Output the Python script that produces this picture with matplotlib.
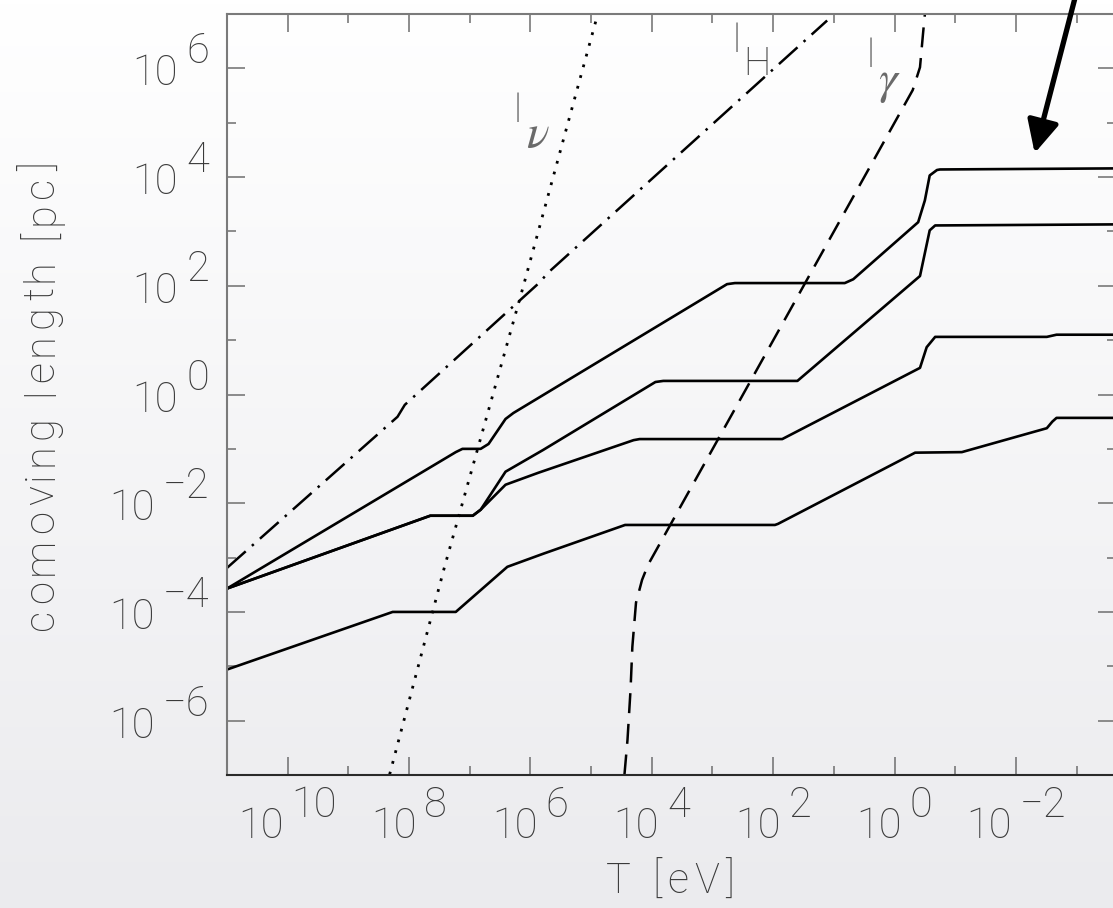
import matplotlib
matplotlib.use('Agg')

import matplotlib.pyplot as plt
import matplotlib.ticker as mticker
from matplotlib.colors import LinearSegmentedColormap
import numpy as np

# values, as log10 exponents
# x: log10(T / eV), y: log10(comoving length / pc)
lnu_logT = [8.32, 7.42, 6.12, 4.90]
lnu_logL = [-6.99, -3.19, 1.98, 6.96]

lH_logT = [11.0, 8.19, 8.07, 5.84, 5.72, 1.11]
lH_logL = [-3.19, -0.41, -0.19, 2.07, 2.23, 6.88]

lgam_logT = [4.45, 4.40, 4.35, 4.32, 4.26, 4.16, 4.06, -0.30, -0.42, -0.47, -0.50]
lgam_logL = [-6.99, -6.35, -5.43, -4.64, -3.83, -3.41, -3.13, 5.60, 6.02, 6.64, 6.99]

a_logT = [11.0, 7.23, 7.12, 6.82, 6.69, 6.41, 6.28, 2.76, 2.63, 0.82, 0.68,
          -0.39, -0.50, -0.58, -0.70, -0.75, -3.7]
a_logL = [-3.57, -1.06, -1.00, -1.00, -0.91, -0.45, -0.34, 2.03, 2.05, 2.05, 2.12,
          3.17, 3.57, 4.03, 4.13, 4.14, 4.16]

b_logT = [11.0, 7.65, 6.95, 6.82, 6.41, 5.79, 3.94, 3.81, 1.60,
          -0.42, -0.50, -0.58, -0.67, -3.7]
b_logL = [-3.57, -2.23, -2.23, -2.12, -1.42, -1.02, 0.23, 0.25, 0.25,
          2.18, 2.60, 3.02, 3.11, 3.13]

c_logT = [11.0, 7.65, 6.95, 6.82, 6.41, 5.87, 4.30, 4.20, 1.85,
          -0.42, -0.53, -0.67, -2.51, -2.67, -3.7]
c_logL = [-3.57, -2.23, -2.23, -2.12, -1.66, -1.44, -0.84, -0.82, -0.82,
          0.49, 0.87, 1.06, 1.06, 1.10, 1.10]

d_logT = [11.0, 8.27, 7.23, 6.38, 5.79, 4.44, 1.97, 1.92, -0.34, -1.11,
          -2.51, -2.60, -2.67, -3.7]
d_logL = [-5.06, -4.00, -4.00, -3.17, -2.93, -2.40, -2.40, -2.38, -1.07, -1.06,
          -0.62, -0.50, -0.43, -0.43]

x_major_exp = [10, 8, 6, 4, 2, 0, -2]
x_minor_exp = [9, 7, 5, 3, 1, -1, -3]
y_major_exp = [6, 4, 2, 0, -2, -4, -6]
y_minor_exp = [5, 3, 1, -1, -3, -5]

W, H = 1113, 908
FS = 30
FONT = dict(family='Roboto', weight=100, color='#3a3a3a')

fig = plt.figure(figsize=(W / 100, H / 100), dpi=100)
fig.patch.set_facecolor('#f4f4f6')

# slide-like background gradient
bg = fig.add_axes([0, 0, 1, 1], zorder=-10)
cmap = LinearSegmentedColormap.from_list('bg', ['#ffffff', '#ebebee'])
bg.imshow(np.linspace(0, 1, 256)[:, None], aspect='auto', cmap=cmap,
          extent=[0, 1, 0, 1], origin='upper')
bg.axis('off')

ax = fig.add_axes([227 / W, (H - 775) / H, (1116 - 227) / W, (775 - 14) / H])
ax.patch.set_alpha(0)
ax.set_xscale('log')
ax.set_yscale('log')
ax.set_xlim(1e11, 10 ** -3.65)
ax.set_ylim(1e-7, 1e7)

ax.xaxis.set_major_locator(mticker.FixedLocator([10.0 ** e for e in x_major_exp]))
ax.xaxis.set_minor_locator(mticker.FixedLocator([10.0 ** e for e in x_minor_exp]))
ax.yaxis.set_major_locator(mticker.FixedLocator([10.0 ** e for e in y_major_exp]))
ax.yaxis.set_minor_locator(mticker.FixedLocator([10.0 ** e for e in y_minor_exp]))
ax.xaxis.set_major_formatter(mticker.NullFormatter())
ax.yaxis.set_major_formatter(mticker.NullFormatter())
ax.xaxis.set_minor_formatter(mticker.NullFormatter())
ax.yaxis.set_minor_formatter(mticker.NullFormatter())
ax.tick_params(which='both', direction='in', top=True, right=True, color='#6e6e6e')
ax.tick_params(which='major', length=13, width=1.1)
ax.tick_params(which='minor', length=6.5, width=1.1)
for s in ax.spines.values():
    s.set_color('#7a7a7a')
    s.set_linewidth(1.5)
ax.spines['bottom'].set_color('#2a2a2a')


def lg(v):
    return 10.0 ** np.array(v)


solid = dict(color='black', lw=1.9, solid_joinstyle='round', solid_capstyle='round')
ax.plot(lg(a_logT), lg(a_logL), **solid)
ax.plot(lg(b_logT), lg(b_logL), **solid)
ax.plot(lg(c_logT), lg(c_logL), **solid)
ax.plot(lg(d_logT), lg(d_logL), **solid)
ax.plot(lg(lnu_logT), lg(lnu_logL), color='black', lw=2.0, linestyle=(0, (1, 3)))
ax.plot(lg(lH_logT), lg(lH_logL), color='black', lw=1.8, linestyle=(0, (10, 3.3, 1, 3.3)))
ax.plot(lg(lgam_logT), lg(lgam_logL), color='black', lw=1.8, linestyle=(0, (8, 4.3)))

# curve labels
greek = dict(ha='center', va='baseline', fontsize=34, math_fontfamily='stix', color='#6a6a6a')
ax.text(10 ** 6.21, 10 ** 5.01, 'l', ha='center', va='baseline', fontsize=28, **FONT)
ax.text(10 ** 5.88, 10 ** 4.55, r'$\nu$', **greek)
ax.text(10 ** 2.61, 10 ** 6.31, 'l', ha='center', va='baseline', fontsize=28, **FONT)
ax.text(10 ** 2.26, 10 ** 5.87, 'H', ha='center', va='baseline', fontsize=28, **FONT)
ax.text(10 ** 0.40, 10 ** 6.02, 'l', ha='center', va='baseline', fontsize=28, **FONT)
ax.text(10 ** 0.09, 10 ** 5.54, r'$\gamma$', **greek)

# arrow coming from above the frame
ax.annotate('', xy=(10 ** -2.31, 10 ** 4.44), xytext=(10 ** -3.05, 10 ** 7.62),
            arrowprops=dict(arrowstyle='-|>,head_length=0.65,head_width=0.32',
                            mutation_scale=30, lw=3.8, color='black',
                            shrinkA=0, shrinkB=0),
            annotation_clip=False)

renderer = fig.canvas.get_renderer()


def width_px(s, fs=FS):
    t = fig.text(0, 0, s, fontsize=fs, **FONT)
    w = t.get_window_extent(renderer=renderer).width
    t.remove()
    return w


def tracked_text(cx, cy, s, length, rotation=0):
    """Draw s letter by letter, spread to the given length (pixels),
    centred on (cx, cy) given in image pixels (baseline)."""
    offs, widths = [], []
    for i, ch in enumerate(s):
        if ch == ' ':
            offs.append(None)
            widths.append(0)
            continue
        wi = width_px(ch)
        offs.append(width_px(s[:i + 1]) - wi)
        widths.append(wi)
    natural = offs[-1] + widths[-1]
    track = (length - natural) / (len(s) - 1)
    start = -length / 2
    for i, ch in enumerate(s):
        if offs[i] is None:
            continue
        p = start + offs[i] + track * i
        if rotation == 0:
            x, y = cx + p, H - cy
        else:
            x, y = cx, H - cy + p
        fig.text(x / W, y / H, ch, rotation=rotation, rotation_mode='anchor',
                 ha='left', va='baseline', fontsize=FS, **FONT)


def exp_str(e):
    return str(e) if e >= 0 else '\u2212' + str(-e)


# tick labels: "10" with a full-size raised exponent
GAP = 8
tw = width_px('10')
for e in x_major_exp:
    es = exp_str(e)
    total = tw + GAP + width_px(es)
    ax.annotate('10', xy=(10.0 ** e, 0), xycoords=('data', 'axes fraction'),
                xytext=(-total / 2, -63), textcoords='offset pixels',
                ha='left', va='baseline', fontsize=FS, annotation_clip=False, **FONT)
    ax.annotate(es, xy=(10.0 ** e, 0), xycoords=('data', 'axes fraction'),
                xytext=(-total / 2 + tw + GAP, -42), textcoords='offset pixels',
                ha='left', va='baseline', fontsize=FS, annotation_clip=False, **FONT)

for e in y_major_exp:
    es = exp_str(e)
    ew = width_px(es)
    ax.annotate(es, xy=(0, 10.0 ** e), xycoords=('axes fraction', 'data'),
                xytext=(-18, 5), textcoords='offset pixels',
                ha='right', va='baseline', fontsize=FS, annotation_clip=False, **FONT)
    ax.annotate('10', xy=(0, 10.0 ** e), xycoords=('axes fraction', 'data'),
                xytext=(-18 - ew - GAP, -17), textcoords='offset pixels',
                ha='right', va='baseline', fontsize=FS, annotation_clip=False, **FONT)

tracked_text(53, 396, 'comoving length [pc]', 467, rotation=90)
tracked_text(670, 893, 'T [eV]', 129)

fig.savefig('out.png', dpi=100, facecolor=fig.get_facecolor())
